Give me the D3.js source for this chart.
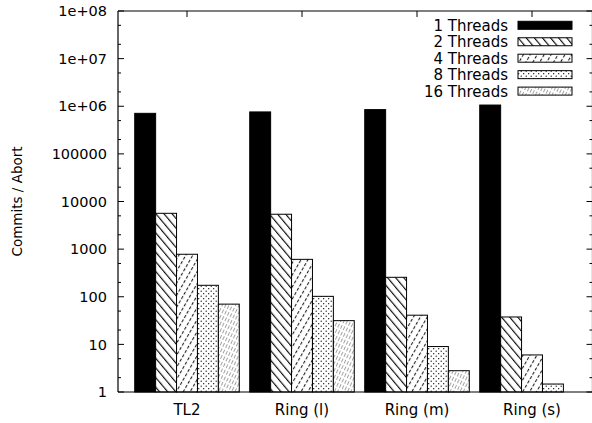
<!DOCTYPE html>
<html>
<head>
<meta charset="utf-8">
<script src="https://cdn.jsdelivr.net/npm/d3@7.9.0/dist/d3.min.js"></script>
<style>
  body { margin: 0; background: #fff; }
  text { font-family: "DejaVu Sans", sans-serif; fill: #000; }
</style>
</head>
<body>
<div id="vis"></div>
<script>
// data
const categories = ['TL2', 'Ring (l)', 'Ring (m)', 'Ring (s)'];
const seriesNames = ['1 Threads', '2 Threads', '4 Threads', '8 Threads', '16 Threads'];
const threads1  = [710000, 760000, 850000, 1060000];
const threads2  = [5650, 5400, 256, 37.6];
const threads4  = [780, 610, 41, 6.0];
const threads8  = [174, 102, 9.0, 1.47];
const threads16 = [70, 31.5, 2.8, 1];
const yTickValues = [1, 10, 100, 1000, 10000, 100000, 1e6, 1e7, 1e8];
const yTickLabels = ['1', '10', '100', '1000', '10000', '100000', '1e+06', '1e+07', '1e+08'];

const series = [threads1, threads2, threads4, threads8, threads16];

const W = 592, H = 423;
const pLeft = 118, pRight = 592.5, pTop = 11, pBottom = 392;

const svg = d3.select('#vis').append('svg')
    .attr('width', W).attr('height', H);

// fill patterns
const defs = svg.append('defs');
const fills = ['#000', 'url(#p2)', 'url(#p4)', 'url(#p8)', 'url(#p16)'];

const p2 = defs.append('pattern').attr('id', 'p2')
    .attr('patternUnits', 'userSpaceOnUse')
    .attr('width', 6.2).attr('height', 10)
    .attr('patternTransform', 'rotate(-40)');
p2.append('rect').attr('width', 6.2).attr('height', 10).attr('fill', '#fff');
p2.append('line').attr('x1', 0.6).attr('x2', 0.6).attr('y1', 0).attr('y2', 10)
    .attr('stroke', '#000').attr('stroke-width', 1.1);

const p4 = defs.append('pattern').attr('id', 'p4')
    .attr('patternUnits', 'userSpaceOnUse')
    .attr('width', 6).attr('height', 5)
    .attr('patternTransform', 'rotate(30)');
p4.append('rect').attr('width', 6).attr('height', 5).attr('fill', '#fff');
p4.append('line').attr('x1', 0.6).attr('x2', 0.6).attr('y1', 0).attr('y2', 3.2)
    .attr('stroke', '#000').attr('stroke-width', 0.95);

const p8 = defs.append('pattern').attr('id', 'p8')
    .attr('patternUnits', 'userSpaceOnUse')
    .attr('width', 5).attr('height', 5);
p8.append('rect').attr('width', 5).attr('height', 5).attr('fill', '#fff');
p8.append('circle').attr('cx', 1.2).attr('cy', 1.2).attr('r', 0.65).attr('fill', '#000');
p8.append('circle').attr('cx', 3.7).attr('cy', 3.7).attr('r', 0.65).attr('fill', '#000');

const p16 = defs.append('pattern').attr('id', 'p16')
    .attr('patternUnits', 'userSpaceOnUse')
    .attr('width', 3).attr('height', 6)
    .attr('patternTransform', 'rotate(25)');
p16.append('rect').attr('width', 3).attr('height', 6).attr('fill', '#fff');
p16.append('line').attr('x1', 0.5).attr('x2', 0.5).attr('y1', 0).attr('y2', 6)
    .attr('stroke', '#999').attr('stroke-width', 0.9)
    .attr('stroke-dasharray', '4,2');

// scales
const x = d3.scaleLinear().domain([-0.6, 3.526]).range([pLeft, pRight]);
const y = d3.scaleLog().domain([1, 1e8]).range([pBottom, pTop]);
const barW = 1 / 5.5;

// minor ticks at 2 and 5 of each decade
const minorVals = [];
for (let e = 0; e < 8; e++) { minorVals.push(2 * 10 ** e, 5 * 10 ** e); }

const ticks = svg.append('g').attr('stroke', '#000').attr('stroke-width', 1);
yTickValues.forEach(v => {
  ticks.append('line').attr('x1', pLeft).attr('x2', pLeft + 6).attr('y1', y(v)).attr('y2', y(v));
  ticks.append('line').attr('x1', pRight).attr('x2', pRight - 6).attr('y1', y(v)).attr('y2', y(v));
});
minorVals.forEach(v => {
  ticks.append('line').attr('x1', pLeft).attr('x2', pLeft + 3).attr('y1', y(v)).attr('y2', y(v));
  ticks.append('line').attr('x1', pRight).attr('x2', pRight - 3).attr('y1', y(v)).attr('y2', y(v));
});
categories.forEach((c, i) => {
  ticks.append('line').attr('x1', x(i)).attr('x2', x(i)).attr('y1', pTop).attr('y2', pTop + 6);
  ticks.append('line').attr('x1', x(i)).attr('x2', x(i)).attr('y1', pBottom).attr('y2', pBottom - 6);
});

// bars
series.forEach((vals, j) => {
  svg.append('g').selectAll('rect')
    .data(vals.map((v, i) => ({ v, i })).filter(d => d.v > 1))
    .join('rect')
      .attr('x', d => x(d.i - 2.5 * barW + j * barW))
      .attr('width', x(barW) - x(0))
      .attr('y', d => y(d.v))
      .attr('height', d => y(1) - y(d.v))
      .attr('fill', fills[j])
      .attr('stroke', '#000')
      .attr('stroke-width', 1);
});

// frame
const frame = svg.append('g').attr('stroke', '#000').attr('stroke-width', 1.2).attr('fill', 'none');
frame.append('line').attr('x1', pLeft).attr('x2', pLeft).attr('y1', pTop).attr('y2', pBottom);
frame.append('line').attr('x1', pLeft).attr('x2', pRight).attr('y1', pBottom).attr('y2', pBottom);
frame.append('line').attr('x1', pLeft).attr('x2', pRight).attr('y1', pTop).attr('y2', pTop);
frame.append('line').attr('x1', pRight).attr('x2', pRight).attr('y1', pTop).attr('y2', pBottom);

// y tick labels
svg.append('g').selectAll('text')
  .data(yTickValues)
  .join('text')
    .attr('x', pLeft - 11)
    .attr('y', d => y(d))
    .attr('dy', '0.36em')
    .attr('text-anchor', 'end')
    .style('font-size', '14.5px')
    .text((d, i) => yTickLabels[i]);

// x labels
svg.append('g').selectAll('text')
  .data(categories)
  .join('text')
    .attr('x', (d, i) => x(i))
    .attr('y', 415)
    .attr('text-anchor', 'middle')
    .style('font-size', '15px')
    .text(d => d);

// y axis title
svg.append('text')
  .attr('transform', `translate(17,${(pTop + pBottom) / 2}) rotate(-90)`)
  .attr('text-anchor', 'middle')
  .attr('dy', '0.35em')
  .style('font-size', '13.5px')
  .text('Commits / Abort');

// legend
const legend = svg.append('g');
seriesNames.forEach((name, j) => {
  const base = 31 + 16.45 * j;
  legend.append('text')
    .attr('x', 508).attr('y', base)
    .attr('text-anchor', 'end')
    .style('font-size', '15px')
    .text(name);
  legend.append('rect')
    .attr('x', 518).attr('y', base - 9.7)
    .attr('width', 54).attr('height', 8)
    .attr('fill', fills[j])
    .attr('stroke', '#000').attr('stroke-width', 1);
});
</script>
</body>
</html>
